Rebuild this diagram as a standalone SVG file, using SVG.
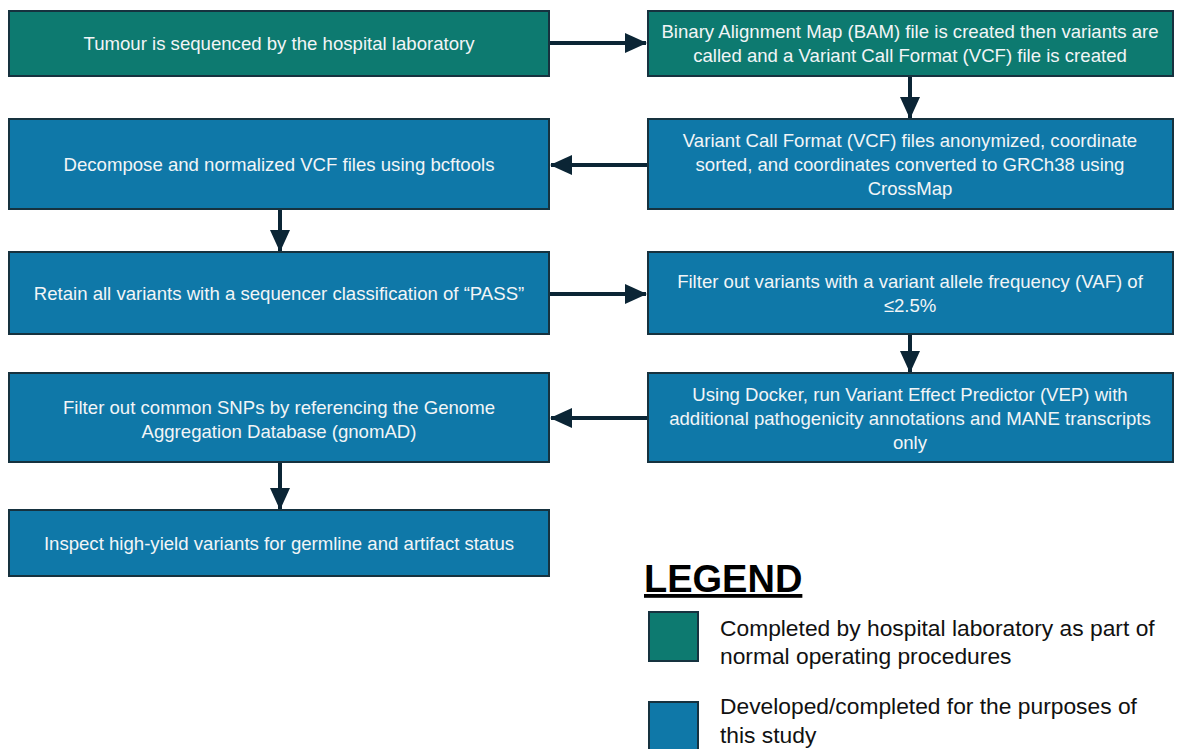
<svg xmlns="http://www.w3.org/2000/svg" width="1178" height="749" viewBox="0 0 1178 749">
<style>
.box{stroke:#16323f;stroke-width:2}
.g{fill:#0d7a70}
.b{fill:#0f78a8}
.t{font-family:"Liberation Sans",Arial,sans-serif;font-size:18.6px;fill:#f2f5f7;text-anchor:middle}
.c{stroke:#0b2535;stroke-width:4;fill:none}
.lt{font-family:"Liberation Sans",Arial,sans-serif;font-size:22.8px;fill:#111}
</style>
<defs>
<marker id="ah" markerUnits="userSpaceOnUse" markerWidth="22" markerHeight="22" viewBox="0 0 22 22" refX="21" refY="11" orient="auto">
<path d="M0,1 L22,11 L0,21 Z" fill="#0b2535"/>
</marker>
</defs>
<rect width="1178" height="749" fill="#ffffff"/>
<g id="connectors">
<path class="c" d="M549,43 H646" marker-end="url(#ah)"/>
<path class="c" d="M910,76 V118" marker-end="url(#ah)"/>
<path class="c" d="M648,165 H551" marker-end="url(#ah)"/>
<path class="c" d="M280,209 V251" marker-end="url(#ah)"/>
<path class="c" d="M549,294 H646" marker-end="url(#ah)"/>
<path class="c" d="M910,334 V372" marker-end="url(#ah)"/>
<path class="c" d="M648,418 H551" marker-end="url(#ah)"/>
<path class="c" d="M280,462 V509" marker-end="url(#ah)"/>
</g>
<g id="n1"><rect class="box g" x="9" y="11" width="540" height="65"/>
<text class="t" x="279" y="50">Tumour is sequenced by the hospital laboratory</text></g>
<g id="n2"><rect class="box g" x="648" y="11" width="525" height="65"/>
<text class="t" x="910" y="38">Binary Alignment Map (BAM) file is created then variants are</text>
<text class="t" x="910" y="62">called and a Variant Call Format (VCF) file is created</text></g>
<g id="n3"><rect class="box b" x="648" y="119" width="525" height="90"/>
<text class="t" x="910" y="147">Variant Call Format (VCF) files anonymized, coordinate</text>
<text class="t" x="910" y="171">sorted, and coordinates converted to GRCh38 using</text>
<text class="t" x="910" y="195">CrossMap</text></g>
<g id="n4"><rect class="box b" x="9" y="119" width="540" height="90"/>
<text class="t" x="279" y="171">Decompose and normalized VCF files using bcftools</text></g>
<g id="n5"><rect class="box b" x="9" y="252" width="540" height="82"/>
<text class="t" x="279" y="300">Retain all variants with a sequencer classification of “PASS”</text></g>
<g id="n6"><rect class="box b" x="648" y="252" width="525" height="82"/>
<text class="t" x="910" y="288">Filter out variants with a variant allele frequency (VAF) of</text>
<text class="t" x="910" y="312">≤2.5%</text></g>
<g id="n7"><rect class="box b" x="648" y="373" width="525" height="89"/>
<text class="t" x="910" y="401">Using Docker, run Variant Effect Predictor (VEP) with</text>
<text class="t" x="910" y="425">additional pathogenicity annotations and MANE transcripts</text>
<text class="t" x="910" y="449">only</text></g>
<g id="n8"><rect class="box b" x="9" y="373" width="540" height="89"/>
<text class="t" x="279" y="414">Filter out common SNPs by referencing the Genome</text>
<text class="t" x="279" y="438">Aggregation Database (gnomAD)</text></g>
<g id="n9"><rect class="box b" x="9" y="510" width="540" height="66"/>
<text class="t" x="279" y="550">Inspect high-yield variants for germline and artifact status</text></g>
<g id="legend">
<text x="644" y="592" font-family="Liberation Sans,Arial,sans-serif" font-size="38" font-weight="bold" fill="#000" text-decoration="underline">LEGEND</text>
<rect class="box g" x="649" y="612" width="49" height="49"/>
<text class="lt" x="720" y="636">Completed by hospital laboratory as part of</text>
<text class="lt" x="720" y="664">normal operating procedures</text>
<rect class="box b" x="649" y="702" width="49" height="49"/>
<text class="lt" x="720" y="714">Developed/completed for the purposes of</text>
<text class="lt" x="720" y="743">this study</text>
</g>
</svg>
